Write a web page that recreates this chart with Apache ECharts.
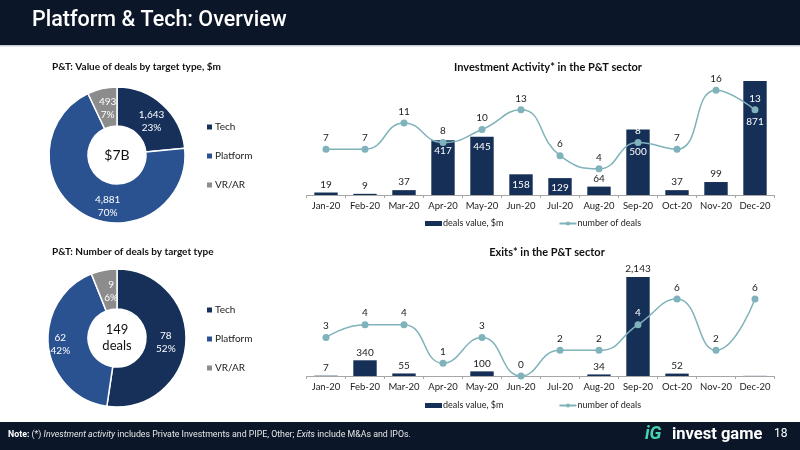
<!DOCTYPE html>
<html>
<head>
<meta charset="utf-8">
<script src="https://cdn.jsdelivr.net/npm/echarts@6/dist/echarts.min.js"></script>
<style>
  html, body { margin: 0; padding: 0; background: #fff; }
  #main { width: 800px; height: 450px; }
</style>
</head>
<body>
<div id="main"></div>
<script>
// data
var months = ['Jan-20','Feb-20','Mar-20','Apr-20','May-20','Jun-20','Jul-20','Aug-20','Sep-20','Oct-20','Nov-20','Dec-20'];
var invValue = [19, 9, 37, 417, 445, 158, 129, 64, 500, 37, 99, 871];
var invCount = [7, 7, 11, 8, 10, 13, 6, 4, 8, 7, 16, 13];
var exitValue = [7, 340, 55, 0, 100, 0, 0, 34, 2143, 52, 0, 3];
var exitCount = [3, 4, 4, 1, 3, 0, 2, 2, 4, 6, 2, 6];
var types = ['Tech', 'Platform', 'VR/AR'];
var typeValue = [1643, 4881, 493];
var typeCount = [78, 62, 9];

var navy = '#162f56';
var typeColors = ['#16305a', '#2a5290', '#8c8c8c'];
var lineColor = '#7fb2ba';
var font = 'Lato';

var chart = echarts.init(document.getElementById('main'));

function fmt(v) { return v.toLocaleString('en-US'); }

function pieData(vals, offsets) {
    return types.map(function (t, i) {
        var it = { name: t, value: vals[i], itemStyle: { color: typeColors[i] } };
        if (offsets && offsets[i]) it.label = { offset: offsets[i] };
        return it;
    });
}
function pieLabel(p) {
    return fmt(p.value) + '\n' + Math.round(p.percent) + '%';
}
// bar labels: tall bars get the label inside, white; some pushed lower like the original
function barData(vals, inside, hidden, shift) {
    return vals.map(function (v, i) {
        var it = { value: v };
        if (v === 0 || (hidden && hidden.indexOf(i) >= 0)) {
            it.label = { show: false };
        } else if (inside && v > 120) {
            it.label = { position: 'insideTop', color: '#fff', distance: (shift && shift[i]) || 5 };
        }
        return it;
    });
}
// line labels sitting on a dark bar turn white
function lineData(vals, onBar) {
    return vals.map(function (v, i) {
        var it = { value: v };
        if (onBar.indexOf(i) >= 0) it.label = { color: '#fff' };
        return it;
    });
}

function xAx(idx) {
    return {
        type: 'category', gridIndex: idx, data: months,
        axisLine: { lineStyle: { color: '#a6a6a6' } },
        axisTick: { show: true, length: 3, lineStyle: { color: '#a6a6a6' } },
        axisLabel: { color: '#222', fontSize: 9.5, fontFamily: font, margin: 6, interval: 0, hideOverlap: false }
    };
}
function yAx(idx, max) {
    return { type: 'value', gridIndex: idx, min: 0, max: max, show: false, splitLine: { show: false } };
}
function barLegend(top) {
    return {
        top: top, left: 420, itemGap: 55, itemWidth: 17, itemHeight: 5,
        textStyle: { fontSize: 9, fontFamily: font, color: '#222', padding: [0, 0, 0, -4] },
        data: [{ name: 'deals value, $m', icon: 'rect' }, { name: 'number of deals' }]
    };
}
function typeLegend(top) {
    return {
        orient: 'vertical', left: 200, top: top, itemGap: 17, itemWidth: 7, itemHeight: 7,
        textStyle: { fontSize: 10, fontFamily: font, color: '#222', padding: [0, 0, 0, -3], lineHeight: 12 },
        data: types.map(function (t) { return { name: t, icon: 'rect' }; })
    };
}
var titleText = { fontSize: 10, fontWeight: 'bold', color: '#111', fontFamily: font };

var option = {
    animation: false,
    textStyle: { fontFamily: font },
    title: [
        { text: 'P&T: Value of deals by target type, $m', left: 47, top: 57, textStyle: titleText },
        { text: 'P&T: Number of deals by target type', left: 47, top: 242, textStyle: titleText },
        { text: 'Investment Activity* in the P&T sector', left: 543, top: 57, textAlign: 'center',
          textStyle: { fontSize: 11, fontWeight: 'bold', color: '#111', fontFamily: font } },
        { text: 'Exits* in the P&T sector', left: 542, top: 242, textAlign: 'center',
          textStyle: { fontSize: 11, fontWeight: 'bold', color: '#111', fontFamily: font } }
    ],
    legend: [typeLegend(116), typeLegend(299), barLegend(214), barLegend(396)],
    grid: [
        { left: 306.5, right: 25.5, top: 64, bottom: 255 },
        { left: 306.5, right: 25.5, top: 260.5, bottom: 74 }
    ],
    xAxis: [xAx(0), xAx(1)],
    yAxis: [yAx(0, 1000), yAx(0, 20), yAx(1, 2500), yAx(1, 9)],
    graphic: [
        { type: 'rect', shape: { x: 0, y: 0, width: 800, height: 45 }, style: { fill: '#0b1729' } },
        { type: 'rect', shape: { x: 0, y: 45, width: 800, height: 1.5 }, style: { fill: '#c9ced6' } },
        { type: 'text', left: 32, top: 10,
          style: { text: 'Platform & Tech: Overview', fill: '#fff', font: '500 21.5px Roboto' } },
        { type: 'rect', shape: { x: 0, y: 422, width: 800, height: 28 }, style: { fill: '#0b1729' } },
        { type: 'text', left: 8, top: 430,
          style: {
              text: '{b|Note:} (*) {i|Investment activity} includes Private Investments and PIPE, Other; {i|Exits} include M&As and IPOs.',
              fill: '#e6e6e6', font: '8.8px Roboto',
              rich: { b: { fontWeight: 'bold', fontSize: 8.8, fontFamily: 'Roboto', fill: '#fff' },
                      i: { fontStyle: 'italic', fontSize: 8.8, fontFamily: 'Roboto', fill: '#e6e6e6' } }
          } },
        { type: 'text', left: 645, top: 425,
          style: { text: 'iG', fill: '#46d3ad', font: 'italic bold 18px Roboto' } },
        { type: 'text', left: 672, top: 426,
          style: { text: 'invest game', fill: '#fff', font: 'bold 16.5px Roboto' } },
        { type: 'text', left: 774, top: 428,
          style: { text: '18', fill: '#fff', font: '12px Roboto' } },
        { type: 'text', x: 117, y: 155,
          style: { text: '$7B', fill: '#111', font: '14px Lato', align: 'center', verticalAlign: 'middle' } },
        { type: 'text', x: 117, y: 338,
          style: { text: '149\ndeals', fill: '#111', font: '13px Lato', align: 'center', verticalAlign: 'middle', lineHeight: 16 } }
    ],
    series: [
        { type: 'pie', center: [117, 155], radius: [29, 68], startAngle: 90, clockwise: true,
          itemStyle: { borderColor: '#fff', borderWidth: 1.5 },
          label: { position: 'inside', formatter: pieLabel, color: '#fff', fontSize: 10, fontFamily: font, lineHeight: 13 },
          labelLine: { show: false }, data: pieData(typeValue, [[0, 4], [16, 6], [2, 4]]) },
        { type: 'pie', center: [117, 338], radius: [29, 69], startAngle: 90, clockwise: true,
          itemStyle: { borderColor: '#fff', borderWidth: 1.5 },
          label: { position: 'inside', formatter: pieLabel, color: '#fff', fontSize: 10, fontFamily: font, lineHeight: 13 },
          labelLine: { show: false }, data: pieData(typeCount, [[-3, 0], [-5, 0], [4, 4]]) },
        { name: 'deals value, $m', type: 'bar', xAxisIndex: 0, yAxisIndex: 0, barWidth: '60%',
          itemStyle: { color: navy },
          label: { show: true, position: 'top', color: '#222', fontSize: 10, fontFamily: font, distance: 3,
                   formatter: function (p) { return fmt(p.value); } },
          data: barData(invValue, true, null, { 8: 17, 11: 36 }) },
        { name: 'number of deals', type: 'line', xAxisIndex: 0, yAxisIndex: 1, smooth: true,
          symbol: 'circle', symbolSize: 7, lineStyle: { color: lineColor, width: 1.5 },
          itemStyle: { color: lineColor },
          label: { show: true, position: 'top', color: '#222', fontSize: 10, fontFamily: font, distance: 3 },
          data: lineData(invCount, [8, 11]) },
        { name: 'deals value, $m', type: 'bar', xAxisIndex: 1, yAxisIndex: 2, barWidth: '60%',
          itemStyle: { color: navy },
          label: { show: true, position: 'top', color: '#222', fontSize: 10, fontFamily: font, distance: 3,
                   formatter: function (p) { return fmt(p.value); } },
          data: barData(exitValue, false, [11]) },
        { name: 'number of deals', type: 'line', xAxisIndex: 1, yAxisIndex: 3, smooth: true,
          symbol: 'circle', symbolSize: 7, lineStyle: { color: lineColor, width: 1.5 },
          itemStyle: { color: lineColor },
          label: { show: true, position: 'top', color: '#222', fontSize: 10, fontFamily: font, distance: 3 },
          data: lineData(exitCount, [8]) }
    ]
};
chart.setOption(option);
</script>
</body>
</html>
